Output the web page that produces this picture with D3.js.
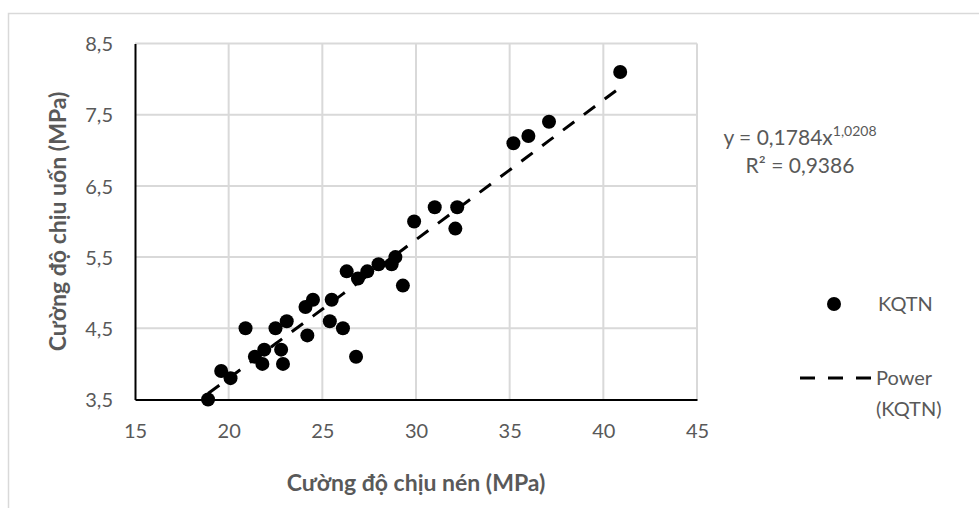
<!DOCTYPE html>
<html>
<head>
<meta charset="utf-8">
<script src="https://cdnjs.cloudflare.com/ajax/libs/d3/7.8.5/d3.min.js"></script>
<style>
    body { margin: 0; background: #fff; }
    svg { display: block; font-family: Lato, 'Open Sans', sans-serif; }
</style>
</head>
<body>
<svg id="chart" width="979" height="508"></svg>
<script>
// Cường độ chịu nén (MPa)
const compressive = [18.9, 19.6, 20.1, 20.9, 21.4, 21.8, 21.9, 22.5, 22.8, 22.9, 23.1,
    24.1, 24.2, 24.5, 25.4, 25.5, 26.1, 26.8, 26.3, 26.9, 27.4, 28.0, 28.7, 28.9, 29.3,
    29.9, 31.0, 32.2, 32.1, 35.2, 36.0, 37.1, 40.9];
// Cường độ chịu uốn (MPa)
const flexural = [3.5, 3.9, 3.8, 4.5, 4.1, 4.0, 4.2, 4.5, 4.2, 4.0, 4.6,
    4.8, 4.4, 4.9, 4.6, 4.9, 4.5, 4.1, 5.3, 5.2, 5.3, 5.4, 5.4, 5.5, 5.1,
    6.0, 6.2, 6.2, 5.9, 7.1, 7.2, 7.4, 8.1];

const xTicks = [15, 20, 25, 30, 35, 40, 45];
const yTicks = [3.5, 4.5, 5.5, 6.5, 7.5, 8.5];

// power trendline y = a * x^b (as shown on the chart)
const powerA = 0.1784;
const powerB = 1.0208;
const rSquared = '0,9386';

const textColor = '#595959';
const gridColor = '#d9d9d9';
const fmt = d => String(d).replace('.', ',');

const svg = d3.select('#chart');

// outer chart frame
svg.append('rect')
    .attr('x', 8.5).attr('y', 13.5)
    .attr('width', 1000).attr('height', 600)
    .attr('fill', 'none')
    .attr('stroke', gridColor)
    .attr('stroke-width', 1.5);

const xScale = d3.scaleLinear().domain([15, 45]).range([135, 697]);
const yScale = d3.scaleLinear().domain([3.5, 8.5]).range([399.5, 43.5]);

// gridlines
svg.append('g')
    .selectAll('line')
    .data(xTicks.slice(1))
    .join('line')
    .attr('x1', d => xScale(d)).attr('x2', d => xScale(d))
    .attr('y1', yScale(3.5)).attr('y2', yScale(8.5))
    .attr('stroke', gridColor).attr('stroke-width', 2);

svg.append('g')
    .selectAll('line')
    .data(yTicks.slice(1))
    .join('line')
    .attr('x1', xScale(15)).attr('x2', xScale(45))
    .attr('y1', d => yScale(d)).attr('y2', d => yScale(d))
    .attr('stroke', gridColor).attr('stroke-width', 2);

// axes
const xAxis = svg.append('g')
    .attr('transform', `translate(0,${yScale(3.5)})`)
    .call(d3.axisBottom(xScale).tickValues(xTicks).tickSize(0).tickPadding(24).tickFormat(fmt));

const yAxis = svg.append('g')
    .attr('transform', `translate(${xScale(15)},0)`)
    .call(d3.axisLeft(yScale).tickValues(yTicks).tickSize(0).tickPadding(22).tickFormat(fmt));

[xAxis, yAxis].forEach(axis => {
    axis.select('.domain').attr('stroke', '#000').attr('stroke-width', 2);
    axis.selectAll('text')
        .attr('fill', textColor)
        .style('font-size', '20px')
        .style('font-family', 'Lato, sans-serif');
});
yAxis.selectAll('text').attr('dy', '0.36em');

// trendline
const trendX = compressive.slice().sort((a, b) => a - b);
svg.append('path')
    .datum(trendX)
    .attr('fill', 'none')
    .attr('stroke', '#000')
    .attr('stroke-width', 3)
    .attr('stroke-dasharray', '14,12')
    .attr('d', d3.line()
        .x(d => xScale(d))
        .y(d => yScale(powerA * Math.pow(d, powerB))));

// data points
svg.append('g')
    .selectAll('circle')
    .data(d3.zip(compressive, flexural))
    .join('circle')
    .attr('cx', d => xScale(d[0]))
    .attr('cy', d => yScale(d[1]))
    .attr('r', 7)
    .attr('fill', '#000');

// axis titles
svg.append('text')
    .attr('x', (xScale(15) + xScale(45)) / 2)
    .attr('y', 491)
    .attr('text-anchor', 'middle')
    .attr('fill', textColor)
    .style('font-size', '23px')
    .style('font-weight', 'bold')
    .text('Cường độ chịu nén (MPa)');

svg.append('text')
    .attr('transform', `translate(66,${(yScale(3.5) + yScale(8.5)) / 2}) rotate(-90)`)
    .attr('text-anchor', 'middle')
    .attr('fill', textColor)
    .style('font-size', '23px')
    .style('font-weight', 'bold')
    .text('Cường độ chịu uốn (MPa)');

// trendline equation
const eq = svg.append('text')
    .attr('x', 800).attr('y', 145)
    .attr('text-anchor', 'middle')
    .attr('fill', textColor)
    .style('font-size', '21px');
eq.append('tspan').text(`y = ${fmt(powerA)}x`);
eq.append('tspan').attr('dy', -9).style('font-size', '14px').text(fmt(powerB));

svg.append('text')
    .attr('x', 800).attr('y', 173)
    .attr('text-anchor', 'middle')
    .attr('fill', textColor)
    .style('font-size', '21px')
    .text(`R² = ${rSquared}`);

// legend
svg.append('circle')
    .attr('cx', 834).attr('cy', 304).attr('r', 7).attr('fill', '#000');
svg.append('text')
    .attr('x', 878).attr('y', 304).attr('dy', '0.36em')
    .attr('fill', textColor)
    .style('font-size', '20px')
    .text('KQTN');

svg.append('line')
    .attr('x1', 800).attr('x2', 871)
    .attr('y1', 378).attr('y2', 378)
    .attr('stroke', '#000')
    .attr('stroke-width', 3)
    .attr('stroke-dasharray', '15,13');
svg.append('text')
    .attr('x', 876).attr('y', 378).attr('dy', '0.36em')
    .attr('fill', textColor)
    .style('font-size', '20px')
    .text('Power');
svg.append('text')
    .attr('x', 876).attr('y', 409).attr('dy', '0.36em')
    .attr('fill', textColor)
    .style('font-size', '20px')
    .text('(KQTN)');
</script>
</body>
</html>
